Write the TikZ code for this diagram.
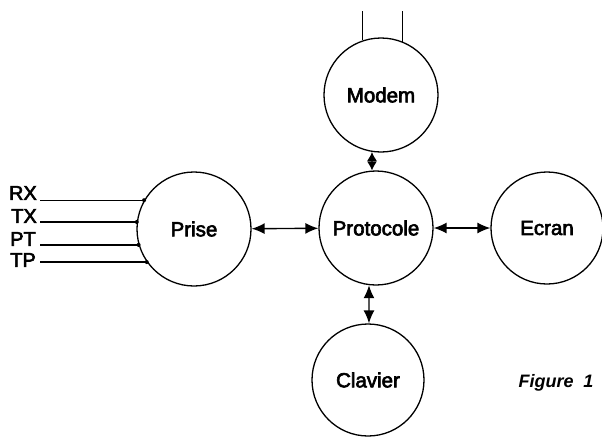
\documentclass[tikz,border=0pt]{standalone}
\usepackage{fontspec}
\setmainfont{Liberation Sans}
\newfontfamily\medsans[FakeBold=3]{Liberation Sans}
\usetikzlibrary{arrows.meta}
\tikzset{
  unit/.style={draw, circle, line width=1.3pt, minimum size=114pt, inner sep=0pt,
    font=\medsans\fontsize{20.5}{24}\selectfont},
  wire/.style={line width=1.3pt},
  link/.style={line width=1.4pt, {Latex[length=13pt,width=11pt]}-{Latex[length=13pt,width=11pt]}},
  shortlink/.style={line width=1.4pt, {Latex[length=9pt,width=10pt]}-{Latex[length=9pt,width=10pt]}},
  sig/.style={anchor=east, inner sep=0pt, font=\medsans\fontsize{20}{24}\selectfont},
  pin/.style={circle, fill, inner sep=0pt, minimum size=4pt}
}
\begin{document}
\begin{tikzpicture}[x=1pt,y=-1pt]
  \useasboundingbox (0,0) rectangle (602,439);

  % blocks
  \node[unit] (modem) at (381,95)  {Modem};
  \node[unit] (proto) at (376,228) {Protocole};
  \node[unit] (prise) at (194,229) {Prise};
  \node[unit, minimum size=112pt] (ecran) at (547,228) {Ecran};
  \node[unit, minimum size=112pt] (clav)  at (368,380) {Clavier};

  % telephone line pair above the modem
  \coordinate (ltop) at (0,11);
  \draw[wire] (modem.109.5) -- (modem.109.5 |- ltop);
  \draw[wire] (modem.68.4)  -- (modem.68.4 |- ltop);

  % links between blocks
  \draw[link] (prise) -- (proto);
  \draw[link] (proto) -- (ecran);
  \draw[shortlink] (modem.261) -- (proto.94);
  \draw[link] (proto.263) -- (clav.89);

  % socket signals
  \node[sig] (rx) at (37,193) {RX};
  \node[sig] (tx) at (37,216) {TX};
  \node[sig] (pt) at (36,239) {PT};
  \node[sig] (tp) at (36,260) {TP};
  \coordinate (wstart) at (40,0);
  \draw[wire] (prise.150.6) -- (prise.150.6 -| wstart);
  \draw[wire] (prise.173)   -- (prise.173 -| wstart);
  \draw[wire] (prise.196.3) -- (prise.196.3 -| wstart);
  \draw[wire] (prise.215.4) -- (prise.215.4 -| wstart);
  \node[pin] (p1) at (prise.150.6) {};
  \node[pin] (p2) at (prise.173) {};
  \node[pin] (p3) at (prise.196.3) {};
  \node[pin] (p4) at (prise.215.4) {};

  % caption
  \node[inner sep=0pt, font=\fontsize{18}{21}\selectfont\bfseries\itshape] (cap) at (556,383) {Figure\hspace{0.55em}1};
\end{tikzpicture}
\end{document}
